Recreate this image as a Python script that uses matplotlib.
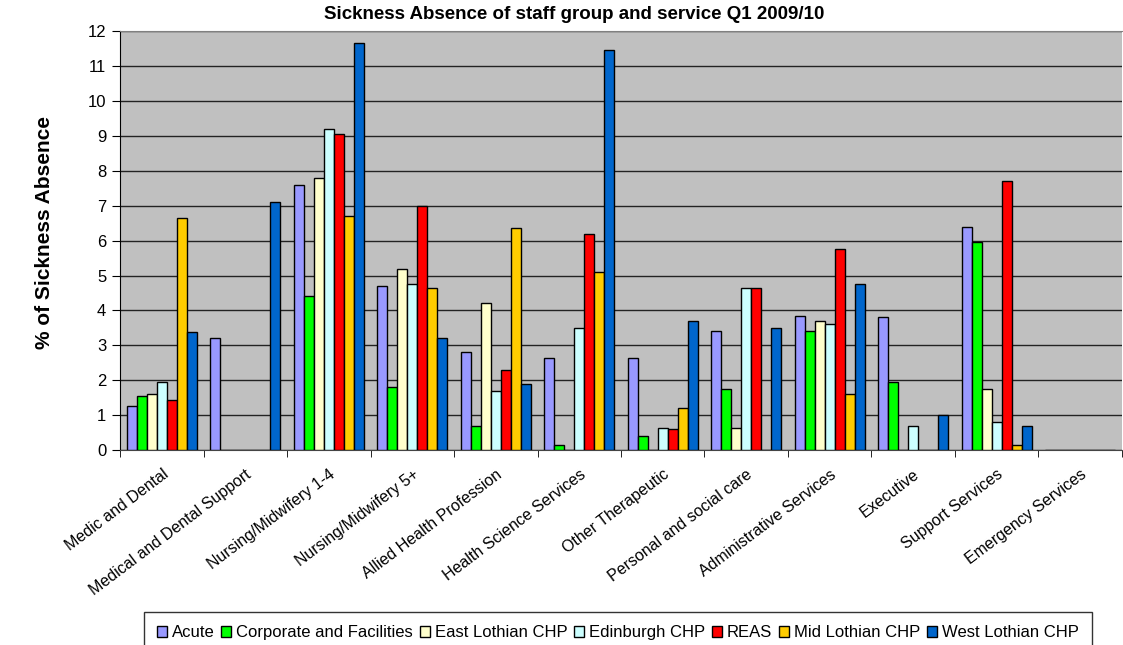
import numpy as np
import matplotlib
matplotlib.use('Agg')
import matplotlib.pyplot as plt

plt.rcParams['font.family'] = ['Liberation Sans', 'DejaVu Sans']

categories = ['Medic and Dental', 'Medical and Dental Support', 'Nursing/Midwifery 1-4',
              'Nursing/Midwifery 5+', 'Allied Health Profession', 'Health Science Services',
              'Other Therapeutic', 'Personal and social care', 'Administrative Services',
              'Executive', 'Support Services', 'Emergency Services']

series_names = ['Acute', 'Corporate and Facilities', 'East Lothian CHP', 'Edinburgh CHP',
                'REAS', 'Mid Lothian CHP', 'West Lothian CHP']

acute = [1.27, 3.2, 7.6, 4.7, 2.8, 2.65, 2.65, 3.4, 3.85, 3.8, 6.4, 0]
corporate = [1.55, 0, 4.4, 1.8, 0.7, 0.15, 0.4, 1.75, 3.4, 1.95, 5.95, 0]
east_lothian = [1.6, 0, 7.8, 5.2, 4.2, 0, 0, 0.65, 3.7, 0, 1.75, 0]
edinburgh = [1.95, 0, 9.2, 4.75, 1.7, 3.5, 0.65, 4.65, 3.6, 0.7, 0.8, 0]
reas = [1.45, 0, 9.05, 7.0, 2.3, 6.2, 0.6, 4.65, 5.75, 0, 7.7, 0]
mid_lothian = [6.65, 0, 6.7, 4.65, 6.35, 5.1, 1.2, 0, 1.6, 0, 0.15, 0]
west_lothian = [3.37, 7.1, 11.65, 3.2, 1.9, 11.45, 3.7, 3.5, 4.75, 1.0, 0.7, 0]

series = [acute, corporate, east_lothian, edinburgh, reas, mid_lothian, west_lothian]
colors = ['#9999FF', '#00FF00', '#FFFFCC', '#CCFFFF', '#FF0000', '#FFCC00', '#0066CC']

fig = plt.figure(figsize=(11.23, 6.45), dpi=100)
ax = fig.add_axes([0.107, 0.302, 0.892, 0.65])
ax.set_facecolor('#C0C0C0')

x = np.arange(len(categories)) + 0.5
width = 0.12
for i, (vals, col, name) in enumerate(zip(series, colors, series_names)):
    ax.bar(x + (i - 3) * width, vals, width, color=col, edgecolor='black',
           linewidth=1, label=name, zorder=3)

ax.set_xlim(0, 12)
ax.set_ylim(0, 12)
ax.set_yticks(range(0, 13))
ax.yaxis.grid(True, color='#222222', linewidth=1, zorder=1)
ax.tick_params(axis='y', labelsize=12, length=6, pad=4, direction='out')

ax.set_xticks(x)
ax.set_xticklabels(categories, rotation=37, ha='right', va='top',
                   rotation_mode='anchor', fontsize=11.5)
ax.tick_params(axis='x', which='major', length=0, pad=12)
ax.set_xticks(np.arange(0, 13), minor=True)
ax.tick_params(axis='x', which='minor', length=5, direction='out')

ax.spines['right'].set_visible(False)
ax.spines['top'].set_color('#808080')
ax.spines['left'].set_color('black')
ax.spines['bottom'].set_color('#444444')

fig.text(0.511, 0.977, 'Sickness Absence of staff group and service Q1 2009/10',
         ha='center', va='center', fontsize=13.5, fontweight='bold')
fig.text(0.04, 0.64, '% of Sickness Absence', rotation=90, ha='center', va='center',
         fontsize=15, fontweight='bold')

leg = fig.legend(loc='upper center', bbox_to_anchor=(0.55, 0.051), ncol=7,
                 fontsize=12, frameon=True, fancybox=False, edgecolor='black',
                 handlelength=0.6, handleheight=0.6, handletextpad=0.3,
                 columnspacing=0.4, borderpad=0.8, borderaxespad=0)
leg.get_frame().set_linewidth(1)

fig.savefig('out.png', dpi=100)
